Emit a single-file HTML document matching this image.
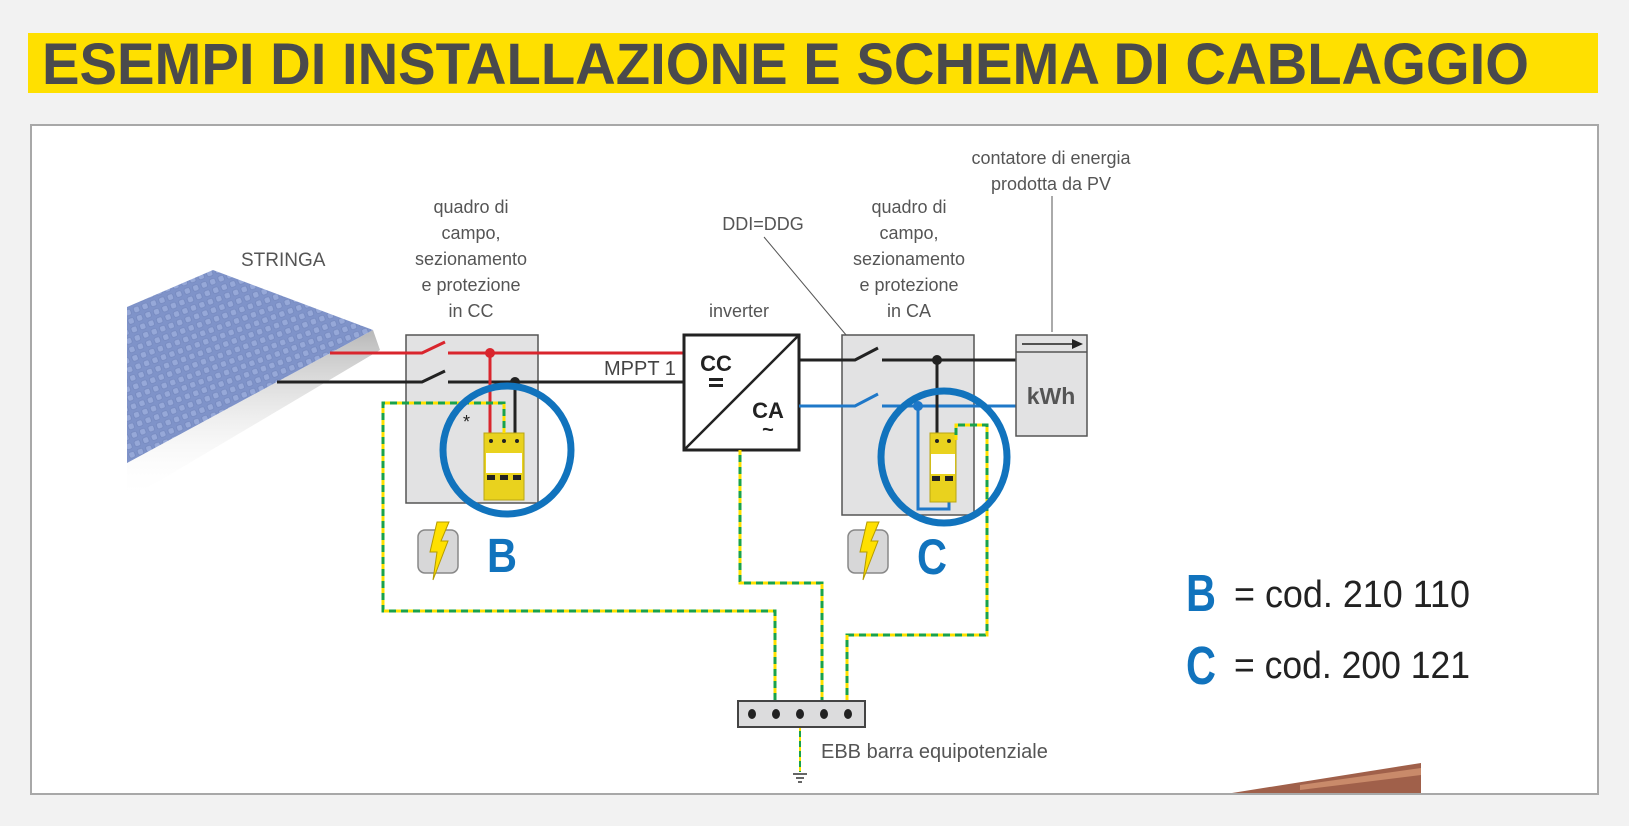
<!DOCTYPE html>
<html><head><meta charset="utf-8"><style>
html,body{margin:0;padding:0;background:#f2f2f2;}
svg{display:block;}
text{font-family:"Liberation Sans Narrow","Liberation Sans",sans-serif;}
</style></head><body>
<svg width="1629" height="826" viewBox="0 0 1629 826" xmlns="http://www.w3.org/2000/svg">
<defs>
<pattern id="cells" width="9" height="9" patternUnits="userSpaceOnUse" patternTransform="rotate(-20)">
<rect width="9" height="9" fill="#7f93c9"/>
<rect x="1.5" y="1.5" width="6" height="6" rx="2" fill="#96a8d8" stroke="#6e82b8" stroke-width="0.6"/>
</pattern>
<linearGradient id="sh" x1="0" y1="0" x2="0" y2="1"><stop offset="0" stop-color="#999" stop-opacity="0.7"/><stop offset="1" stop-color="#fff" stop-opacity="0"/></linearGradient>
</defs>
<rect x="0" y="0" width="1629" height="826" fill="#f2f2f2"/>
<rect x="28" y="33" width="1570" height="60" fill="#ffe000"/>
<text x="42" y="84" font-size="58" font-weight="bold" fill="#4a4a4c" textLength="1487" lengthAdjust="spacingAndGlyphs">ESEMPI DI INSTALLAZIONE E SCHEMA DI CABLAGGIO</text>
<rect x="31" y="125" width="1567" height="669" fill="#fff" stroke="#a8a8a8" stroke-width="2"/>

<polygon points="127,463 373,330 380,350 127,500" fill="url(#sh)"/>
<polygon points="127,307 213,270 373,330 127,463" fill="url(#cells)"/>
<text x="241" y="266" font-size="19" fill="#555">STRINGA</text>

<g font-size="18" fill="#555" text-anchor="middle">
<text x="471" y="213">quadro di</text><text x="471" y="239">campo,</text><text x="471" y="265">sezionamento</text><text x="471" y="291">e protezione</text><text x="471" y="317">in CC</text>
<text x="909" y="213">quadro di</text><text x="909" y="239">campo,</text><text x="909" y="265">sezionamento</text><text x="909" y="291">e protezione</text><text x="909" y="317">in CA</text>
<text x="739" y="317">inverter</text>
<text x="763" y="230">DDI=DDG</text>
<text x="1051" y="164">contatore di energia</text>
<text x="1051" y="190">prodotta da PV</text>
</g>
<line x1="764" y1="237" x2="857" y2="348" stroke="#555" stroke-width="1"/>
<line x1="1052" y1="196" x2="1052" y2="332" stroke="#555" stroke-width="1"/>

<rect x="406" y="335" width="132" height="168" fill="#e2e2e3" stroke="#555" stroke-width="1.5"/>
<rect x="842" y="335" width="132" height="180" fill="#e2e2e3" stroke="#555" stroke-width="1.5"/>

<g stroke-width="3" fill="none">
<path d="M330 353H422L445 342M448 353H684" stroke="#d9252d"/>
<path d="M277 382H422L445 371M448 382H684" stroke="#222"/>
<path d="M490 353V433" stroke="#d9252d"/>
<path d="M515 382V433" stroke="#222"/>
</g>
<circle cx="490" cy="353" r="5" fill="#d9252d"/>
<circle cx="515" cy="382" r="5" fill="#222"/>
<text x="604" y="375" font-size="20" fill="#444">MPPT 1</text>
<text x="463" y="428" font-size="18" fill="#222">*</text>

<rect x="484" y="433" width="40" height="67" fill="#e9d21e" stroke="#b9a514"/>
<rect x="486" y="453" width="36" height="20" fill="#fff"/>
<rect x="487" y="475" width="8" height="5" fill="#222"/><rect x="500" y="475" width="8" height="5" fill="#222"/><rect x="513" y="475" width="8" height="5" fill="#222"/>
<circle cx="491" cy="441" r="2" fill="#222"/><circle cx="504" cy="441" r="2" fill="#222"/><circle cx="517" cy="441" r="2" fill="#222"/>

<rect x="684" y="335" width="115" height="115" fill="#fff" stroke="#222" stroke-width="3"/>
<line x1="684" y1="450" x2="799" y2="335" stroke="#222" stroke-width="2.5"/>
<text x="716" y="371" font-size="22" font-weight="bold" fill="#222" text-anchor="middle">CC</text>
<rect x="709" y="378" width="14" height="3" fill="#222"/><rect x="709" y="384" width="14" height="3" fill="#222"/>
<text x="768" y="418" font-size="22" font-weight="bold" fill="#222" text-anchor="middle">CA</text>
<text x="768" y="436" font-size="20" font-weight="bold" fill="#222" text-anchor="middle">~</text>

<g stroke-width="3" fill="none">
<path d="M799 360H855L878 348M882 360H1016" stroke="#222"/>
<path d="M799 406H855L878 394M882 406H1016" stroke="#1f78c8"/>
<path d="M937 360V433" stroke="#222"/>
<path d="M918 406V509H949V495" stroke="#1f78c8"/>
</g>
<circle cx="937" cy="360" r="5" fill="#222"/>
<circle cx="918" cy="406" r="5" fill="#1f78c8"/>
<rect x="930" y="433" width="26" height="69" fill="#e9d21e" stroke="#b9a514"/>
<rect x="931" y="454" width="24" height="20" fill="#fff"/>
<rect x="932" y="476" width="8" height="5" fill="#222"/><rect x="945" y="476" width="8" height="5" fill="#222"/>
<circle cx="937" cy="441" r="2" fill="#222"/><circle cx="949" cy="441" r="2" fill="#222"/>

<rect x="1016" y="335" width="71" height="101" fill="#e2e2e3" stroke="#555" stroke-width="1.5"/>
<line x1="1016" y1="352" x2="1087" y2="352" stroke="#555" stroke-width="1.5"/>
<line x1="1022" y1="344" x2="1074" y2="344" stroke="#222" stroke-width="1.5"/>
<polygon points="1072,339 1083,344 1072,349" fill="#222"/>
<text x="1051" y="404" font-size="23" font-weight="bold" fill="#555" text-anchor="middle">kWh</text>

<g fill="none" stroke-width="3">
<path d="M504 433V403H383V611H775V701" stroke="#1aa24a"/>
<path d="M504 433V403H383V611H775V701" stroke="#ffe000" stroke-dasharray="5 7"/>
<path d="M740 450V583H822V701" stroke="#1aa24a"/>
<path d="M740 450V583H822V701" stroke="#ffe000" stroke-dasharray="5 7"/>
<path d="M956 440V425H987V635H847V701" stroke="#1aa24a"/>
<path d="M956 440V425H987V635H847V701" stroke="#ffe000" stroke-dasharray="5 7"/>
<path d="M800 727V772" stroke="#1aa24a" stroke-width="2"/>
<path d="M800 727V772" stroke="#ffe000" stroke-width="2" stroke-dasharray="4 6"/>
</g>
<g stroke="#333" stroke-width="1.5"><line x1="793" y1="774" x2="807" y2="774"/><line x1="796" y1="778" x2="804" y2="778"/><line x1="798" y1="782" x2="802" y2="782"/></g>

<circle cx="507" cy="450" r="64" fill="none" stroke="#1173bd" stroke-width="7"/>
<ellipse cx="944" cy="457" rx="63" ry="66" fill="none" stroke="#1173bd" stroke-width="7"/>

<g>
<rect x="418" y="530" width="40" height="43" rx="7" fill="#d7d7d8" stroke="#888" stroke-width="1.5"/>
<polygon points="437,522 449,522 441,541 448,541 433,580 437,552 430,552" fill="#ffe000" stroke="#b49b00" stroke-width="1"/>
<rect x="848" y="530" width="40" height="43" rx="7" fill="#d7d7d8" stroke="#888" stroke-width="1.5"/>
<polygon points="867,522 879,522 871,541 878,541 863,580 867,552 860,552" fill="#ffe000" stroke="#b49b00" stroke-width="1"/>
</g>
<text x="487" y="572" font-size="48" font-weight="bold" fill="#1173bd" textLength="30" lengthAdjust="spacingAndGlyphs">B</text>
<text x="917" y="574" font-size="50" font-weight="bold" fill="#1173bd" textLength="30" lengthAdjust="spacingAndGlyphs">C</text>

<rect x="738" y="701" width="127" height="26" fill="#dcdcdd" stroke="#444" stroke-width="2"/>
<g fill="#222"><ellipse cx="752" cy="714" rx="4" ry="5"/><ellipse cx="776" cy="714" rx="4" ry="5"/><ellipse cx="800" cy="714" rx="4" ry="5"/><ellipse cx="824" cy="714" rx="4" ry="5"/><ellipse cx="848" cy="714" rx="4" ry="5"/></g>
<text x="821" y="758" font-size="20" fill="#555">EBB barra equipotenziale</text>

<text x="1186" y="611" font-size="52" font-weight="bold" fill="#1173bd" textLength="30" lengthAdjust="spacingAndGlyphs">B</text>
<text x="1234" y="607" font-size="38" fill="#222" textLength="236" lengthAdjust="spacingAndGlyphs">= cod. 210 110</text>
<text x="1186" y="684" font-size="54" font-weight="bold" fill="#1173bd" textLength="30" lengthAdjust="spacingAndGlyphs">C</text>
<text x="1234" y="678" font-size="38" fill="#222" textLength="236" lengthAdjust="spacingAndGlyphs">= cod. 200 121</text>

<polygon points="1232,793 1421,763 1421,793" fill="#a0604a"/>
<polygon points="1300,785 1421,768 1421,775 1300,790" fill="#c98a6a"/>
</svg>
</body></html>
